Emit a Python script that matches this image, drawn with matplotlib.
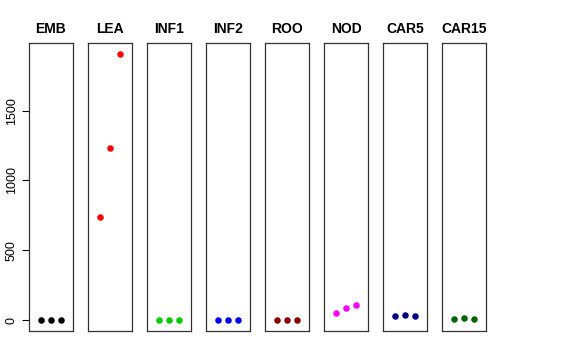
import matplotlib
matplotlib.use("Agg")
import matplotlib.pyplot as plt

plt.rcParams['font.family'] = ['Liberation Sans', 'DejaVu Sans']

groups = ["EMB", "LEA", "INF1", "INF2", "ROO", "NOD", "CAR5", "CAR15"]
colors = ["black", "red", "#00CD00", "blue", "#8B0000", "magenta", "#000080", "#006400"]
values = [
    [2, 2, 2],
    [736, 1229, 1907],
    [3, 3, 3],
    [3, 3, 3],
    [0, 0, 0],
    [55, 86, 107],
    [31, 41, 34],
    [8, 17, 8],
]
reps = [1, 2, 3]
yticks = [0, 500, 1000, 1500]

W, H = 576, 360
fig = plt.figure(figsize=(W / 100, H / 100), dpi=100)

top, bottom = 43, 331
ymin, ymax = 0, 1907
pad = (ymax - ymin) * 0.04

for i, g in enumerate(groups):
    left = 29 + 59 * i
    ax = fig.add_axes([left / W, 1 - bottom / H, 44 / W, (bottom - top) / H])
    ax.scatter(reps, values[i], s=22, color=colors[i], zorder=3, linewidths=0)
    ax.set_xlim(-0.1, 4.1)
    ax.set_ylim(ymin - pad, ymax + pad)
    ax.set_xticks([])
    for s in ax.spines.values():
        s.set_linewidth(0.9)
        s.set_color("#333333")
    ax.set_title(g, fontsize=10, fontweight="bold", pad=7)
    if i == 0:
        ax.set_yticks(yticks)
        ax.set_yticklabels([str(t) for t in yticks], rotation=90, va="center", fontsize=9)
        ax.tick_params(axis="y", length=5, width=0.8, pad=3)
    else:
        ax.set_yticks([])

fig.savefig("out.png", dpi=100)
